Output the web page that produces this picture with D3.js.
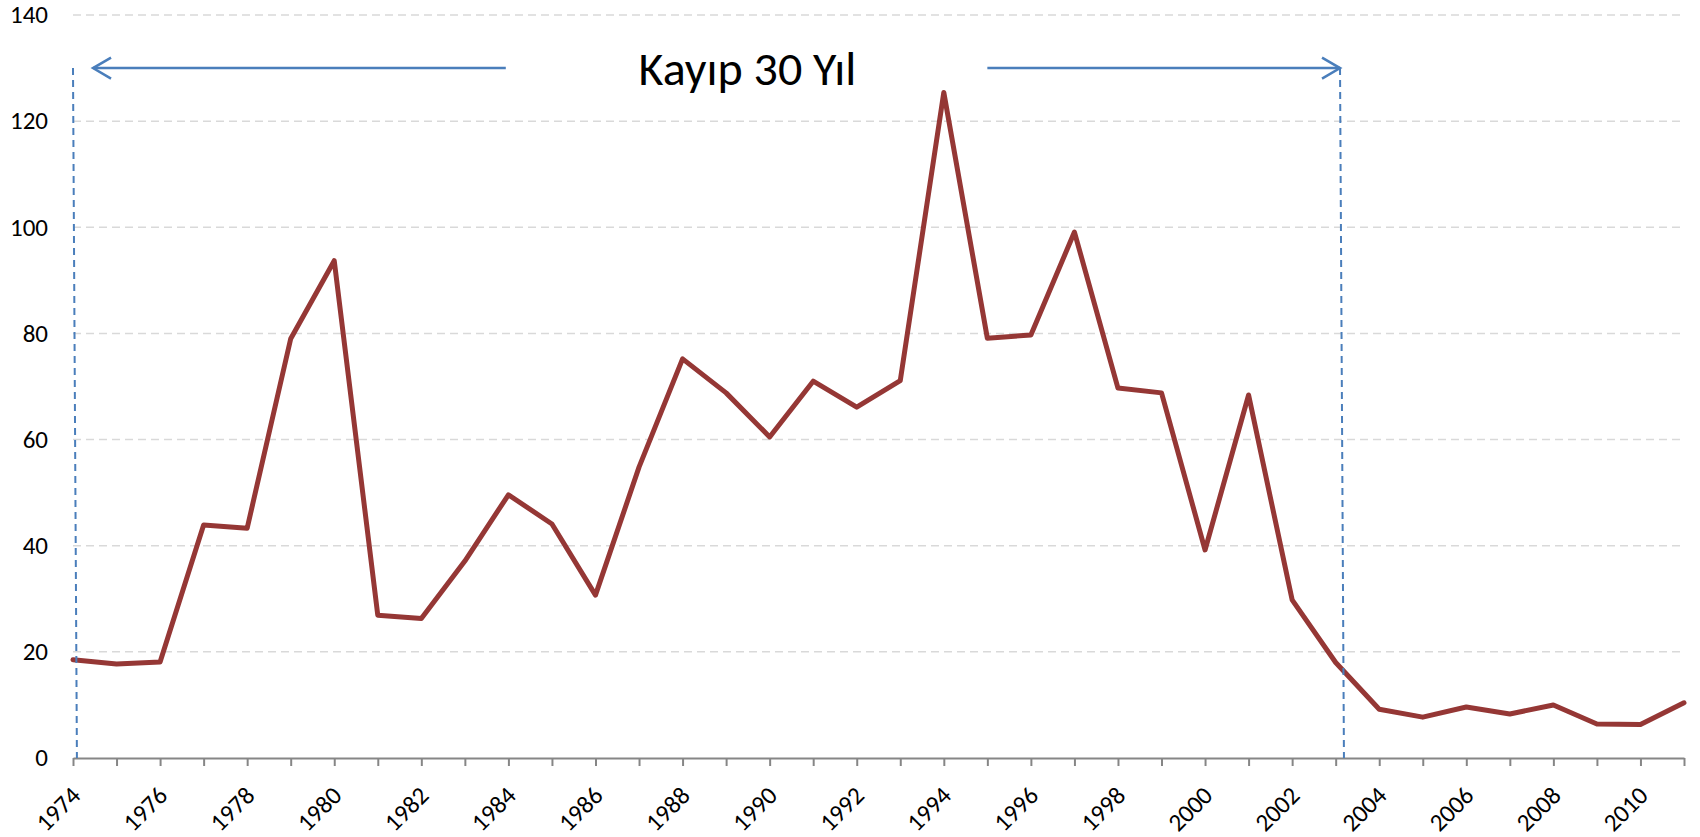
<!DOCTYPE html>
<html>
<head>
<meta charset="utf-8">
<script src="https://cdn.jsdelivr.net/npm/d3@7"></script>
<style>
  body { margin: 0; background: #fff; }
  svg { display: block; font-family: Carlito, Calibri, Lato, sans-serif; }
  .xlab, .ylab { font-size: 25px; }
</style>
</head>
<body>
<div id="chart"></div>
<script>
// Yearly values
const years = d3.range(1974, 2012);
const values = [
  18.5, 17.7, 18.1, 43.9, 43.3, 79.0, 93.7, 26.9, 26.3, 37.1,
  49.6, 44.1, 30.7, 54.8, 75.2, 68.8, 60.5, 71.0, 66.1, 71.1,
  125.4, 79.1, 79.7, 99.1, 69.7, 68.8, 39.2, 68.4, 29.8, 18.0,
  9.2, 7.7, 9.6, 8.3, 10.0, 6.4, 6.3, 10.4
];
const yTicks = [0, 20, 40, 60, 80, 100, 120, 140];
const labelYears = years.filter(d => d % 2 === 0);

// "Kayıp 30 Yıl" annotation (years / values)
const spanLabel = "Kayıp 30 Yıl";
const spanY = 130;
const spanLeftArrow = [1974.46, 1983.94];   // tip, tail
const spanRightArrow = [1995.0, 2003.1];    // tail, tip
const spanDashLeft = [1974.0, 1974.09];     // top, bottom
const spanDashRight = [2003.1, 2003.19];    // top, bottom
const spanTextPos = [1989.49, 126.8];

const width = 1700, height = 837;

const svg = d3.select("#chart")
    .append("svg")
    .attr("width", width)
    .attr("height", height);

const x = d3.scaleLinear().domain([1974, 2011]).range([73, 1684]);
const y = d3.scaleLinear().domain([0, 140]).range([758, 15]);

// dashed gridlines
svg.append("g")
    .selectAll("line")
    .data(yTicks.filter(d => d > 0))
    .enter()
    .append("line")
    .attr("x1", x(1974))
    .attr("x2", x(2011))
    .attr("y1", d => y(d))
    .attr("y2", d => y(d))
    .attr("stroke", "#d9d9d9")
    .attr("stroke-width", 1.5)
    .attr("stroke-dasharray", "8,5");

// y labels (no axis line)
svg.append("g")
    .selectAll("text")
    .data(yTicks)
    .enter()
    .append("text")
    .attr("class", "ylab")
    .attr("x", 48)
    .attr("y", d => y(d))
    .attr("dy", "0.33em")
    .attr("text-anchor", "end")
    .attr("fill", "#000")
    .text(d => d);

// x axis: ticks every year, no built-in labels
const xAxis = d3.axisBottom(x)
    .tickValues(years)
    .tickSize(8)
    .tickSizeOuter(0)
    .tickFormat("");

const gx = svg.append("g")
    .attr("transform", `translate(0,${y(0)})`)
    .call(xAxis);

gx.select(".domain").attr("stroke", "#868686").attr("stroke-width", 2);
gx.selectAll(".tick line").attr("stroke", "#868686").attr("stroke-width", 2);

// rotated year labels every two years
svg.append("g")
    .selectAll("text")
    .data(labelYears)
    .enter()
    .append("text")
    .attr("class", "xlab")
    .attr("text-anchor", "end")
    .attr("fill", "#000")
    .attr("transform", d => `translate(${x(d) + 9},${y(0) + 39}) rotate(-45)`)
    .text(d => d);

// data line
const line = d3.line()
    .x((d, i) => x(years[i]))
    .y(d => y(d));

svg.append("path")
    .datum(values)
    .attr("d", line)
    .attr("fill", "none")
    .attr("stroke", "#953735")
    .attr("stroke-width", 5)
    .attr("stroke-linejoin", "round")
    .attr("stroke-linecap", "round");

// annotation
const blue = "#4a7ebb";
const ann = svg.append("g");

[spanDashLeft, spanDashRight].forEach(d => {
    ann.append("line")
        .attr("x1", x(d[0])).attr("y1", y(spanY))
        .attr("x2", x(d[1])).attr("y2", y(0))
        .attr("stroke", blue)
        .attr("stroke-width", 2)
        .attr("stroke-dasharray", "7,5");
});

function arrow(tipYear, tailYear) {
    const tx = x(tipYear), ty = y(spanY), ex = x(tailYear);
    const dir = tx < ex ? 1 : -1;
    ann.append("line")
        .attr("x1", tx).attr("y1", ty)
        .attr("x2", ex).attr("y2", ty)
        .attr("stroke", blue)
        .attr("stroke-width", 2.5);
    ann.append("path")
        .attr("d", `M${tx + dir * 18},${ty - 10.5} L${tx},${ty} L${tx + dir * 18},${ty + 10.5}`)
        .attr("fill", "none")
        .attr("stroke", blue)
        .attr("stroke-width", 2.5)
        .attr("stroke-linejoin", "miter");
}
arrow(spanLeftArrow[0], spanLeftArrow[1]);
arrow(spanRightArrow[1], spanRightArrow[0]);

ann.append("text")
    .attr("x", x(spanTextPos[0]))
    .attr("y", y(spanTextPos[1]))
    .attr("text-anchor", "middle")
    .style("font-size", "48px")
    .attr("fill", "#000")
    .text(spanLabel);
</script>
</body>
</html>
